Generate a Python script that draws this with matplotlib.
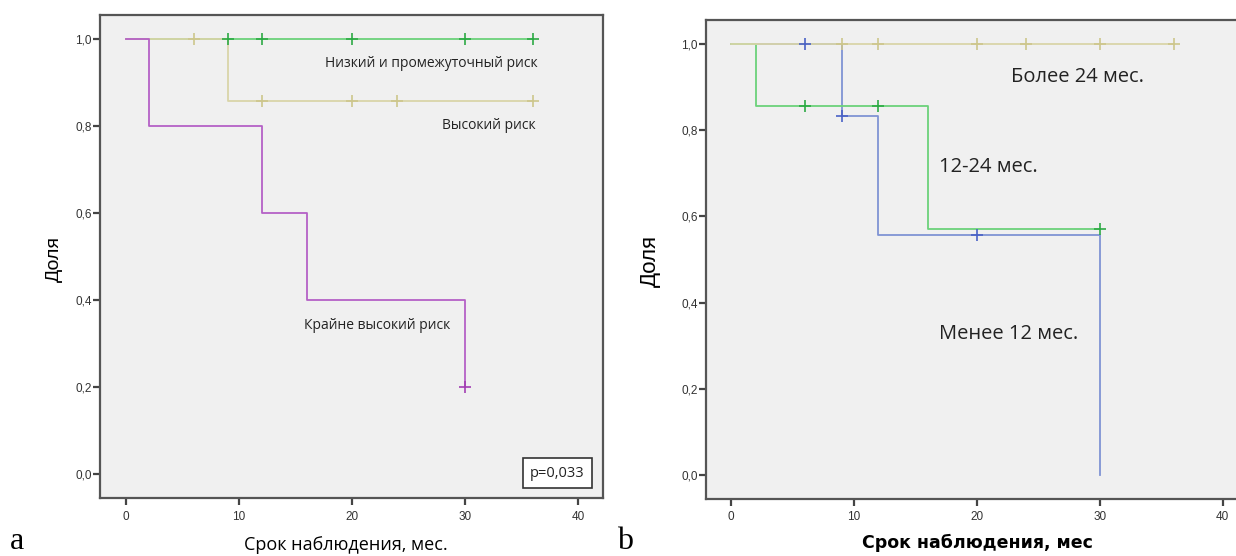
import matplotlib
matplotlib.use('Agg')
import matplotlib.pyplot as plt
import numpy as np

# panel a: risk groups (time in months, survival fraction after each step)
a_low_t = [0, 36]
a_low_s = [1.0, 1.0]
a_low_cens = [9, 12, 20, 30, 36]

a_high_t = [0, 9, 36]
a_high_s = [1.0, 0.857, 0.857]
a_high_cens = [6, 12, 20, 24, 36]

a_ext_t = [0, 2, 12, 16, 30]
a_ext_s = [1.0, 0.8, 0.6, 0.4, 0.2]
a_ext_cens = [30]

# panel b: groups by time
b_more24_t = [0, 36]
b_more24_s = [1.0, 1.0]
b_more24_cens = [9, 12, 20, 24, 30, 36]

b_mid_t = [0, 2, 16, 30]
b_mid_s = [1.0, 0.857, 0.571, 0.571]
b_mid_cens = [6, 12, 30]

b_less12_t = [0, 9, 12, 30]
b_less12_s = [1.0, 0.833, 0.556, 0.0]
b_less12_cens = [6, 9, 20]

x_ticks = [0, 10, 20, 30, 40]
y_ticks = [0.0, 0.2, 0.4, 0.6, 0.8, 1.0]
y_labels = ['0,0', '0,2', '0,4', '0,6', '0,8', '1,0']

TAN = '#d9d5a8'
TAN_M = '#cdc68c'
GREEN = '#6cd27a'
GREEN_M = '#2daa45'
PURPLE = '#b560c6'
PURPLE_M = '#a23fb3'
BLUE = '#8093d4'
BLUE_M = '#4a62c6'

W, H = 1236, 556


def surv_at(t, s, c):
    idx = np.searchsorted(t, c, side='right') - 1
    return np.array(s)[idx]


def setup_axes(ax, xlim):
    ax.set_facecolor('#f0f0f0')
    ax.set_xlim(*xlim)
    ax.set_ylim(-0.056, 1.056)
    ax.set_xticks(x_ticks)
    ax.set_yticks(y_ticks)
    ax.set_yticklabels(y_labels)
    for sp in ax.spines.values():
        sp.set_color('#555555')
        sp.set_linewidth(1.6)
    ax.tick_params(direction='out', length=5, width=1.6, color='#444444',
                   labelsize=8.5, labelcolor='#333333')
    ax.tick_params(axis='x', pad=4)
    ax.tick_params(axis='y', pad=1)
    for lab in ax.get_xticklabels() + ax.get_yticklabels():
        lab.set_family('Liberation Sans')


fig = plt.figure(figsize=(W / 100, H / 100), dpi=100)

# ---- panel a
ax1 = fig.add_axes([100 / W, 1 - 498 / H, 503 / W, 483 / H])
setup_axes(ax1, (-2.3, 42.2))
curves_a = [(a_low_t, a_low_s, a_low_cens, GREEN, GREEN_M),
            (a_high_t, a_high_s, a_high_cens, TAN, TAN_M),
            (a_ext_t, a_ext_s, a_ext_cens, PURPLE, PURPLE_M)]
for t, s, c, col, mcol in curves_a:
    ax1.step(t, s, where='post', color=col, lw=1.3)
for t, s, c, col, mcol in curves_a:
    ax1.plot(c, surv_at(t, s, c), ls='none', marker='+', ms=8, mew=1.2, color=mcol)

ax1.text(36.4, 0.944, 'Низкий и промежуточный риск', ha='right', va='center',
         fontsize=10, family='Open Sans', color='#222222')
ax1.text(36.2, 0.802, 'Высокий риск', ha='right', va='center',
         fontsize=10, family='Open Sans', color='#222222')
ax1.text(22.2, 0.341, 'Крайне высокий риск', ha='center', va='center',
         fontsize=10, family='Open Sans', color='#222222')
ax1.text(38.15, 0.001, 'p=0,033', ha='center', va='center', fontsize=10.5,
         family='Open Sans', color='#222222',
         bbox=dict(boxstyle='square,pad=0.5', fc='white', ec='#333333', lw=1.2))

fig.text(54 / W, 1 - 259 / H, 'Доля', rotation=90, ha='center', va='center',
         fontsize=14, family='Liberation Sans')
fig.text(346 / W, 1 - 545 / H, 'Срок наблюдения, мес.', ha='center', va='center',
         fontsize=13, family='Open Sans')
fig.text(10 / W, 1 - 549 / H, 'a', ha='left', va='baseline',
         fontsize=23, family='Liberation Serif')

# ---- panel b
ax2 = fig.add_axes([706 / W, 1 - 499 / H, 545 / W, 479 / H])
setup_axes(ax2, (-2.03, 42.3))
curves_b = [(b_less12_t, b_less12_s, b_less12_cens, BLUE, BLUE_M),
            (b_mid_t, b_mid_s, b_mid_cens, GREEN, GREEN_M),
            (b_more24_t, b_more24_s, b_more24_cens, TAN, TAN_M)]
for t, s, c, col, mcol in curves_b:
    ax2.step(t, s, where='post', color=col, lw=1.3)
for t, s, c, col, mcol in curves_b:
    ax2.plot(c, surv_at(t, s, c), ls='none', marker='+', ms=8, mew=1.2, color=mcol)

ax2.text(22.8, 0.923, 'Более 24 мес.', ha='left', va='center',
         fontsize=14.5, family='Open Sans', color='#222222')
ax2.text(16.9, 0.715, '12-24 мес.', ha='left', va='center',
         fontsize=14.5, family='Open Sans', color='#222222')
ax2.text(16.9, 0.326, 'Менее 12 мес.', ha='left', va='center',
         fontsize=14.5, family='Open Sans', color='#222222')

fig.text(650 / W, 1 - 261 / H, 'Доля', rotation=90, ha='center', va='center',
         fontsize=16, family='Liberation Sans')
fig.text(977 / W, 1 - 543 / H, 'Срок наблюдения, мес', ha='center', va='center',
         fontsize=12.5, family='DejaVu Sans', weight='bold')
fig.text(617 / W, 1 - 549 / H, 'b', ha='left', va='baseline',
         fontsize=23, family='Liberation Serif')

fig.savefig('out.png', dpi=100)
